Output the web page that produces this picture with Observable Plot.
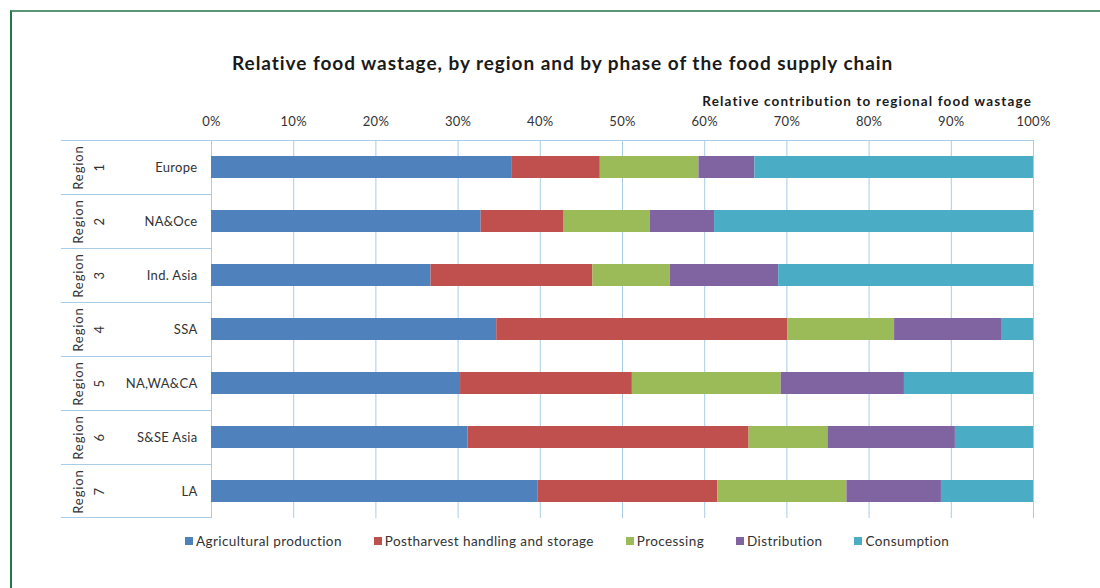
<!DOCTYPE html>
<html>
<head>
<meta charset="utf-8">
<script src="https://cdn.jsdelivr.net/npm/d3@7"></script>
<script src="https://cdn.jsdelivr.net/npm/@observablehq/plot@0.6"></script>
<style>
  html, body { margin: 0; padding: 0; background: #fff; }
  body { width: 1100px; height: 588px; position: relative; overflow: hidden; font-family: Lato, "Open Sans", sans-serif; }
  #frame { position: absolute; left: 10px; top: 10px; width: 1200px; height: 700px; border-left: 2px solid #1f7a45; border-top: 2px solid #5b9577; }
  #chart { position: absolute; left: 0; top: 0; }
  #chart svg text { letter-spacing: 0.3px; }
  #chart svg text.rw { letter-spacing: 0.9px; }
  #title { position: absolute; left: 232px; top: 51px; font-size: 19px; letter-spacing: 0.95px; font-weight: bold; color: #1a1a1a; white-space: nowrap; }
  #xlabel { position: absolute; right: 68px; top: 93px; font-size: 13.5px; letter-spacing: 1.15px; font-weight: bold; color: #1a1a1a; white-space: nowrap; }
  #legend { position: absolute; left: 185px; top: 524px; }
  .lg-swatch { margin-right: 32px !important; font-size: 13.5px; letter-spacing: 0.4px; color: #333; }
  .lg-swatch > svg { margin-right: 3px !important; }
</style>
</head>
<body>
<div id="frame"></div>
<div id="chart"></div>
<div id="title">Relative food wastage, by region and by phase of the food supply chain</div>
<div id="xlabel">Relative contribution to regional food wastage</div>
<div id="legend"></div>
<script>
const regions = ["Europe", "NA&Oce", "Ind. Asia", "SSA", "NA,WA&CA", "S&SE Asia", "LA"];
const regionNumbers = ["1", "2", "3", "4", "5", "6", "7"];
const regionWord = "Region";
const phases = ["Agricultural production", "Postharvest handling and storage", "Processing", "Distribution", "Consumption"];
const phaseColors = ["#4f81bd", "#c0504d", "#9bbb59", "#8064a2", "#4bacc6"];
const agricultural = [36.6, 32.8, 26.7, 34.7, 30.3, 31.2, 39.7];
const postharvest  = [10.7, 10.1, 19.7, 35.4, 20.9, 34.2, 21.9];
const processing   = [12.0, 10.5,  9.4, 13.0, 18.1,  9.6, 15.7];
const distribution = [ 6.8,  7.8, 13.2, 13.1, 15.0, 15.5, 11.5];
const consumption  = [33.9, 38.8, 31.0,  3.8, 15.7,  9.5, 11.2];
const xTicks = [0, 10, 20, 30, 40, 50, 60, 70, 80, 90, 100];
const xTickLabels = ["0%", "10%", "20%", "30%", "40%", "50%", "60%", "70%", "80%", "90%", "100%"];

const series = [agricultural, postharvest, processing, distribution, consumption];
const data = [];
regions.forEach((r, i) => {
  phases.forEach((p, j) => data.push({region: r, phase: p, value: series[j][i]}));
});
const labelRows = regions.map((r, i) => ({region: r, num: regionNumbers[i]}));

const gridColor = "#a9cde6";
const textColor = "#333";

const plot = Plot.plot({
  width: 1100,
  height: 588,
  marginTop: 140,
  marginBottom: 70,
  marginLeft: 211,
  marginRight: 67,
  style: {fontFamily: "Lato, 'Open Sans', sans-serif", fontSize: "13px", color: textColor, background: "transparent", overflow: "visible"},
  x: {domain: [0, 100], axis: "top", ticks: xTicks, tickFormat: d => xTickLabels[xTicks.indexOf(d)], tickSize: 0, tickPadding: 15, label: null},
  y: {domain: regions, padding: 0, axis: null},
  color: {domain: phases, range: phaseColors},
  marks: [
    Plot.ruleX(xTicks, {stroke: gridColor, strokeWidth: 1}),
    Plot.barX(data, Plot.stackX({x: "value", y: "region", fill: "phase", order: phases, insetTop: 16, insetBottom: 16})),
    Plot.text(labelRows, {y: "region", text: "region", frameAnchor: "left", textAnchor: "end", dx: -14, fill: textColor, fontSize: 13}),
    Plot.text(labelRows, {y: "region", text: () => regionWord, frameAnchor: "left", textAnchor: "middle", rotate: -90, dx: -133, fill: textColor, fontSize: 13, className: "rw"}),
    Plot.text(labelRows, {y: "region", text: "num", frameAnchor: "left", textAnchor: "middle", rotate: -90, dx: -112, fill: textColor, fontSize: 13})
  ]
});

// Category separator lines drawn from the plot's own scales
const ys = plot.scale("y");
const xs = plot.scale("x");
const bw = ys.bandwidth;
const svg = d3.select(plot);
svg.selectAll("g").filter(function () { return this.getAttribute("class") === "rw"; }).selectAll("text").attr("class", "rw");
const sepG = svg.append("g").attr("stroke", gridColor).attr("stroke-width", 1);
const left = xs.apply(0) - 150;
regions.forEach((r, i) => {
  const yTop = ys.apply(r);
  sepG.append("line").attr("x1", left).attr("x2", i === 0 ? xs.apply(100) : xs.apply(0)).attr("y1", yTop + 0.5).attr("y2", yTop + 0.5);
});
const yBottom = ys.apply(regions[regions.length - 1]) + bw;
sepG.append("line").attr("x1", left).attr("x2", xs.apply(0)).attr("y1", yBottom - 0.5).attr("y2", yBottom - 0.5);

document.getElementById("chart").appendChild(plot);

const legend = Plot.legend({color: {domain: phases, range: phaseColors}, swatchSize: 8, className: "lg", style: {fontFamily: "Lato, 'Open Sans', sans-serif", fontSize: "13.5px", color: textColor}});
document.getElementById("legend").appendChild(legend);
</script>
</body>
</html>
